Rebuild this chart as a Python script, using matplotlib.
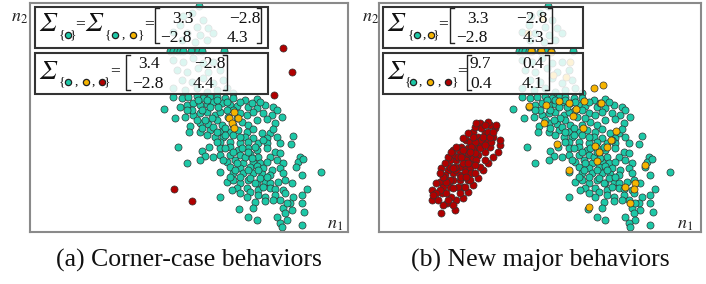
import numpy as np
import matplotlib.pyplot as plt
from matplotlib.patches import Rectangle

plt.rcParams['mathtext.fontset'] = 'stix'

# point clouds (n1 to the right, n2 upwards)
teal_pts = [
    (598, 683), (548, 652), (575, 660), (610, 640), (540, 625), (590, 620), (625, 615),
    (560, 600), (600, 595), (545, 580), (585, 575), (620, 580), (640, 600), (520, 605),
    (510, 548), (520, 548), (530, 548), (540, 548), (550, 548), (573, 548), (594, 548),
    (606, 548), (672, 548),
    (520, 520), (550, 515), (580, 525), (610, 510), (640, 515), (530, 490), (560, 485),
    (595, 495), (625, 485), (660, 490), (545, 460), (575, 455), (610, 465), (640, 450),
    (670, 460), (520, 435), (555, 430), (590, 435), (620, 425), (650, 430), (680, 435),
    (700, 420),
    (520, 410), (545, 405), (565, 410), (590, 412), (610, 405), (630, 410), (650, 408),
    (675, 405), (700, 407), (735, 400), (770, 402),
    (493, 373), (540, 380), (560, 385), (580, 390), (600, 385), (620, 388), (640, 395),
    (665, 390), (690, 385), (710, 382), (745, 380), (770, 375), (795, 385), (820, 380),
    (830, 370),
    (525, 345), (555, 350), (580, 355), (600, 360), (620, 365), (645, 355), (660, 365),
    (700, 370), (720, 360), (740, 355), (760, 365), (790, 360), (815, 355), (845, 348),
    (570, 322), (600, 330), (625, 328), (650, 340), (665, 325), (725, 335), (745, 325),
    (770, 340), (800, 342), (825, 330),
    (568, 305), (600, 305), (630, 310), (660, 305), (690, 305), (715, 310), (740, 305),
    (760, 312), (785, 302), (810, 300), (820, 312),
    (620, 295), (645, 290), (670, 290), (700, 295), (735, 290), (760, 285), (800, 285),
    (830, 290), (880, 292),
    (660, 275), (690, 275), (720, 270), (745, 275), (775, 270), (800, 272), (840, 270),
    (872, 268),
    (535, 258), (605, 248), (628, 260), (660, 255), (690, 260), (715, 250), (745, 255),
    (770, 250), (800, 255), (825, 245),
    (615, 232), (660, 235), (690, 235), (720, 235), (750, 238), (775, 230), (810, 230),
    (840, 240), (900, 230),
    (560, 210), (600, 220), (680, 215), (705, 220), (730, 210), (760, 215), (780, 210),
    (800, 215), (830, 220), (850, 210), (895, 215), (910, 222),
    (690, 200), (720, 195), (750, 200), (770, 202), (790, 195), (815, 190), (840, 195),
    (888, 200),
    (660, 185), (700, 180), (730, 180), (760, 182), (785, 178), (810, 175), (850, 180),
    (905, 175), (963, 183),
    (680, 155), (700, 160), (720, 152), (745, 160), (770, 152), (795, 155), (810, 150),
    (835, 155), (855, 160), (875, 150),
    (710, 135), (740, 135), (775, 130), (810, 135), (825, 132), (850, 130), (920, 132),
    (660, 108), (750, 125), (775, 115), (795, 110), (825, 115), (855, 120), (880, 110),
    (905, 115),
    (765, 95), (795, 97), (840, 100), (870, 90), (905, 90),
    (718, 73), (760, 75), (850, 75), (875, 70), (912, 65),
    (745, 50), (770, 40), (830, 50), (855, 60), (860, 40),
    (840, 32), (845, 20), (905, 25),
    (640, 320), (675, 315), (700, 325), (710, 345), (685, 350), (680, 370), (655, 380),
    (635, 345), (615, 340), (590, 340), (605, 315), (650, 275), (675, 255), (700, 245),
    (725, 255), (735, 230), (710, 210), (755, 225), (745, 190), (775, 190), (705, 190),
    (690, 170), (720, 170), (750, 165), (780, 165), (800, 170), (765, 150), (790, 140),
    (740, 110), (720, 120), (695, 130), (820, 100), (860, 90), (640, 230), (670, 220),
    (765, 260), (790, 280), (720, 290), (745, 245), (675, 295), (650, 305), (605, 370),
    (575, 370), (560, 370), (630, 380), (595, 400), (620, 400), (650, 400), (680, 395),
    (720, 395), (755, 390), (780, 395),
]

orange_a = [(702, 365), (687, 345), (713, 345), (697, 332), (703, 317)]
red_a = [(850, 555), (877, 484), (822, 414), (521, 134), (576, 97)]

orange_b = [
    (540, 382), (586, 330), (630, 398), (661, 390), (674, 352), (681, 372), (706, 398),
    (703, 317), (736, 435), (763, 445), (758, 392), (786, 280), (801, 307), (740, 262),
    (776, 260), (750, 245), (746, 217), (625, 268), (661, 190), (890, 206), (858, 150),
    (828, 140), (856, 132), (843, 90), (720, 78), (593, 385), (546, 548), (576, 547),
    (606, 545), (580, 645), (538, 600), (663, 515), (653, 470), (613, 475),
]

red_b = [
    (249, 130), (249, 100), (276, 60), (295, 90), (318, 70), (323, 100), (281, 120),
    (303, 140), (343, 140), (358, 160), (313, 180), (298, 190), (273, 155), (323, 220),
    (343, 230), (363, 230), (383, 260), (393, 270), (413, 280), (433, 290), (453, 265),
    (438, 315), (423, 325), (393, 330), (418, 335), (443, 325), (373, 305), (353, 280),
    (313, 235), (303, 220), (333, 200), (353, 195), (368, 210), (388, 235), (408, 245),
    (423, 260), (373, 250), (358, 255), (338, 260), (333, 245), (363, 275), (388, 290),
    (408, 300), (398, 315), (313, 160), (333, 160), (288, 175), (283, 140), (308, 110),
    (268, 100), (293, 120), (353, 220), (373, 225), (398, 280), (428, 275), (418, 305),
    (378, 275), (343, 210), (323, 190), (303, 160), (278, 195), (318, 200), (333, 175),
    (358, 240), (383, 220), (393, 255), (408, 265), (363, 195), (303, 200), (313, 250),
    (328, 230), (343, 250), (368, 260), (378, 240), (348, 185), (328, 140), (293, 155),
    (313, 135), (338, 230), (358, 210), (373, 290), (403, 290), (423, 290), (433, 305),
    (408, 325), (368, 180), (338, 170), (283, 170), (273, 130),
    (298, 230), (308, 245), (323, 260), (343, 285), (358, 300), (378, 320), (383, 332),
    (288, 210), (273, 180), (261, 150), (343, 105), (358, 125), (373, 145), (388, 165),
    (403, 190), (418, 210), (433, 230), (448, 245), (453, 280), (408, 220), (393, 200),
    (378, 180), (363, 160), (333, 120), (348, 140), (363, 245), (378, 205), (353, 170),
    (313, 195), (298, 100), (283, 85), (313, 85), (263, 120), (253, 115),
]

captions = ['(a) Corner-case behaviors', '(b) New major behaviors']

TEAL = '#1DC8A7'
ORANGE = '#F6B400'
RED = '#B00000'
EDGE = '#333333'
INK = '#111111'

fig = plt.figure(figsize=(7.06, 2.84), dpi=100)


def panel(px0, px1, xlim, layers):
    ax = fig.add_axes([px0 / 706, (284 - 231.7) / 284,
                       (px1 - px0) / 706, (231.7 - 2.7) / 284])
    for pts, c in layers:
        a = np.array(pts)
        ax.scatter(a[:, 0], a[:, 1], s=26, c=c, edgecolors=EDGE, linewidths=0.5)
    ax.set_xlim(*xlim)
    ax.set_ylim(5, 692)
    ax.set_xticks([])
    ax.set_yticks([])
    for sp in ax.spines.values():
        sp.set_color('#8a8a8a')
        sp.set_linewidth(1.5)
    return ax


panel(30, 348, (90, 1044), [(teal_pts, TEAL), (orange_a, ORANGE), (red_a, RED)])
panel(378.7, 701.3, (90, 1058), [(teal_pts, TEAL), (orange_b, ORANGE), (red_b, RED)])

# overlay in pixel units for the boxes, formulas and captions
ov = fig.add_axes([0, 0, 1, 1], zorder=5)
ov.set_xlim(0, 706)
ov.set_ylim(284, 0)
ov.axis('off')
ov.patch.set_alpha(0)


def box(x0, y0, x1, y1):
    ov.add_patch(Rectangle((x0, y0), x1 - x0, y1 - y0, fc='white', alpha=0.85,
                           ec='none'))
    ov.add_patch(Rectangle((x0, y0), x1 - x0, y1 - y0, fc='none', ec='#333333',
                           lw=1.5))


def sigma(x, yb):
    ov.text(x, yb, '\u03a3', fontsize=19, family='STIXGeneral', style='italic',
            ha='left', va='baseline', color=INK)


def subscript(items, y):
    for x, it in items:
        if it in ('{', '}', ','):
            ov.text(x, y, it, fontsize=9.5, family='Liberation Serif',
                    ha='center', va='center', color=INK)
        else:
            ov.plot(x, y, 'o', ms=4.5, mfc=it, mec='#222222', mew=0.9)


def bracket(xl, xr, yt, yb):
    ov.plot([xl + 4, xl, xl, xl + 4], [yt, yt, yb, yb], color='#222222', lw=1.0)
    ov.plot([xr - 4, xr, xr, xr - 4], [yt, yt, yb, yb], color='#222222', lw=1.0)


def num(x, y, s):
    ov.text(x, y, s, fontsize=12.5, family='Liberation Serif', ha='left',
            va='baseline', color=INK)


def eq(x, ym):
    ov.text(x, ym + 4.5, '=', fontsize=12.5, family='Liberation Serif',
            ha='center', va='baseline', color=INK)


# left panel, box 1
box(35, 6.7, 268.3, 47.7)
sigma(39, 31)
subscript([(62.5, '{'), (68, TEAL), (73.3, '}')], 35)
eq(79.8, 24)
sigma(85, 31)
subscript([(108.5, '{'), (114.5, TEAL), (123, ','), (133, ORANGE), (141.3, '}')], 35)
eq(149.5, 24)
bracket(155, 261, 8, 43)
num(172, 22.7, '3.3')
num(229, 22.7, '\u22122.8')
num(160, 41.7, '\u22122.8')
num(227, 41.7, '4.3')

# left panel, box 2
box(35, 53.3, 268.3, 94.3)
sigma(39, 79)
subscript([(62, '{'), (67.7, TEAL), (76, ','), (85.7, ORANGE), (93.3, ','),
           (101.7, RED), (107.3, '}')], 82)
eq(115.2, 71)
bracket(126, 227, 55, 90)
num(138, 68.3, '3.4')
num(194, 68.3, '\u22122.8')
num(132, 88.3, '\u22122.8')
num(193, 88.3, '4.4')

# right panel, box 1
box(383.3, 6.7, 583.3, 47.7)
sigma(387.5, 31)
subscript([(411, '{'), (417, TEAL), (424, ','), (430.5, ORANGE), (436, '}')], 35)
eq(443.5, 24)
bracket(449.5, 552, 8, 43)
num(467, 22.7, '3.3')
num(516, 22.7, '\u22122.8')
num(456, 41.7, '\u22122.8')
num(523, 41.7, '4.3')

# right panel, box 2
box(383.3, 53.3, 583.3, 94.3)
sigma(387.5, 79)
subscript([(408, '{'), (413.2, TEAL), (420.5, ','), (430, ORANGE), (439, ','),
           (448, RED), (454.5, '}')], 82)
eq(461.8, 71)
bracket(466.5, 549, 55, 90)
num(470, 68.3, '9.7')
num(522, 68.3, '0.4')
num(470, 88.3, '0.4')
num(522, 88.3, '4.1')

# axis names
for x, y in [(11, 22), (362, 22)]:
    ov.text(x, y, '$n_2$', fontsize=13, ha='left', va='baseline', color='#222222')
for x, y in [(327, 229), (677, 229)]:
    ov.text(x, y, '$n_1$', fontsize=13, ha='left', va='baseline', color='#222222')

for x, s in zip([188.5, 540], captions):
    ov.text(x, 267, s, fontsize=18.5, family='Liberation Serif', ha='center',
            va='baseline', color=INK)

fig.savefig('out.png', dpi=100)
